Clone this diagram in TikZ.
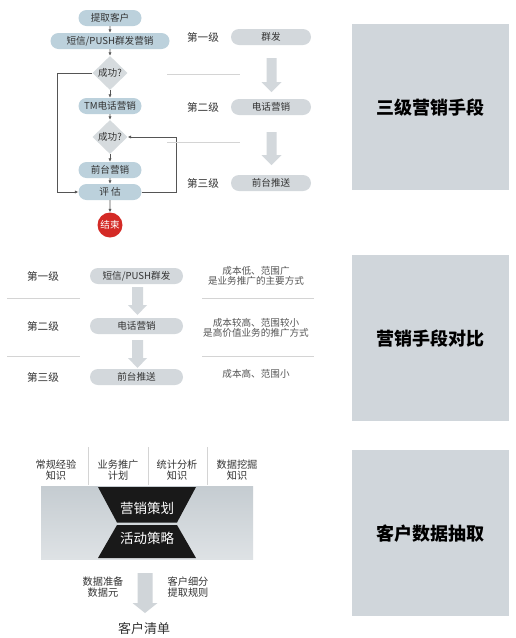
\documentclass[tikz,border=0pt]{standalone}
\usepackage{fontspec}
\setmainfont{Noto Sans CJK SC}
\usetikzlibrary{arrows.meta,shapes.geometric,shapes.misc}
\definecolor{pillblue}{HTML}{BCD1DC}
\definecolor{pillgray}{HTML}{D3D8DC}
\definecolor{diagray}{HTML}{D6DBDE}
\definecolor{panelgray}{HTML}{D0D6DB}
\definecolor{txt}{HTML}{333333}
\definecolor{txtlight}{HTML}{555555}
\definecolor{lineg}{HTML}{D4D4D4}
\definecolor{flowline}{HTML}{555555}
\definecolor{endred}{HTML}{D42A26}
\definecolor{arrowgray}{HTML}{D0D5D9}
\definecolor{bandtop}{HTML}{C5CCD1}
\definecolor{bandbot}{HTML}{DEE2E5}
\newcommand\myarrow[7]{%
  \fill[#7] ({#1-#2/2},#4) -- ({#1+#2/2},#4) -- ({#1+#2/2},#5) -- ({#1+#3/2},#5)
    -- (#1,#6) -- ({#1-#3/2},#5) -- ({#1-#2/2},#5) -- cycle;}
\begin{document}
\begin{tikzpicture}[x=1pt,y=-1pt,
  pillb/.style={rounded rectangle, fill=pillblue, inner sep=0pt, minimum height=16pt, font=\fontsize{9.6}{10}\selectfont, text=txt},
  pillg/.style={rounded rectangle, fill=pillgray, inner sep=0pt, minimum height=16pt, font=\fontsize{9.6}{10}\selectfont, text=txt},
  dia/.style={diamond, fill=diagray, inner sep=0pt, minimum width=35pt, minimum height=34pt},
  ftxt/.style={inner sep=0pt, font=\fontsize{9.6}{10}\selectfont, text=txt},
  lvl/.style={inner sep=0pt, font=\fontsize{10.6}{11}\selectfont, text=txt},
  note/.style={inner sep=0pt, font=\fontsize{9.6}{10.5}\selectfont, text=txtlight, align=center},
  panel/.style={fill=panelgray, inner sep=0pt, anchor=north west, font=\fontsize{18}{20}\selectfont\bfseries, text=black},
  flow/.style={draw=flowline, line width=0.6pt, -{Latex[length=3.5pt,width=3.2pt]}},
  sep/.style={draw=lineg, line width=0.6pt},
  knw/.style={inner sep=0pt, font=\fontsize{10.2}{11.5}\selectfont, text=txt, align=center},
]
\useasboundingbox (0,0) rectangle (515,638);
\fill[white] (0,0) rectangle (515,638);

% ---------- right panels
\node[panel, minimum width=157pt, minimum height=166pt] (p1) at (352,24) {三级营销手段};
\node[panel, minimum width=157pt, minimum height=166pt] (p2) at (352,255) {营销手段对比};
\node[panel, minimum width=157pt, minimum height=166pt] (p3) at (352,450) {客户数据抽取};

% ---------- section 1: flowchart
\node[pillb, minimum width=63pt] (tq) at (110,18) {提取客户};
\node[pillb, minimum width=119pt] (dx) at (110,41) {短信/PUSH群发营销};
\node[dia] (d1) at (110,73) {};
\node[ftxt] (d1t) at (d1) {成功?};
\node[pillb, minimum width=63pt] (tm) at (110,106) {TM电话营销};
\node[dia] (d2) at (110,137) {};
\node[ftxt] (d2t) at (d2) {成功?};
\node[pillb, minimum width=63pt] (qt) at (110,170) {前台营销};
\node[pillb, minimum width=63pt] (pg) at (110,192) {评\ 估};
\node[circle, fill=endred, minimum size=25pt, inner sep=0pt, text=white, font=\fontsize{9.6}{10}\selectfont] (end) at (110,225) {结束};

\draw[flow] (tq) -- (dx);
\draw[flow] (dx) -- (d1);
\draw[flow] (d1) -- (tm);
\draw[flow] (tm) -- (d2);
\draw[flow] (d2) -- (qt);
\draw[flow] (qt) -- (pg);
\draw[flow] (pg) -- (end);
\draw[flow] (d1.west) -- ++(-35,0) |- (pg.west);
\draw[flow] (pg.east) -- ++(35,0) |- (d2.east);

% separators
\coordinate (s1a) at (167,74); \coordinate (s1b) at (240,74);
\coordinate (s2a) at (167,142); \coordinate (s2b) at (240,142);
\draw[sep] (s1a) -- (s1b);
\draw[sep] (s2a) -- (s2b);

% levels
\node[lvl] (l1) at (203,37) {第一级};
\node[lvl] (l2) at (203,107) {第二级};
\node[lvl] (l3) at (203,183) {第三级};
\node[pillg, minimum width=80pt] (g1) at (271,37) {群发};
\node[pillg, minimum width=80pt] (g2) at (271,107) {电话营销};
\node[pillg, minimum width=80pt] (g3) at (271,183) {前台推送};
\myarrow{271.5}{10}{20}{58}{82}{92}{pillgray}
\myarrow{271.5}{10}{20}{132}{155}{165}{pillgray}

% ---------- section 2
\node[lvl] (m1) at (43,276) {第一级};
\node[lvl] (m2) at (43,326) {第二级};
\node[lvl] (m3) at (43,377) {第三级};
\node[pillg, minimum width=93pt] (c1) at (136.5,276) {短信/PUSH群发};
\node[pillg, minimum width=93pt] (c2) at (136.5,326) {电话营销};
\node[pillg, minimum width=93pt] (c3) at (136.5,377) {前台推送};
\myarrow{137.5}{11}{19}{287}{305}{315}{pillgray}
\myarrow{137.5}{11}{19}{340}{358}{368}{pillgray}
\node[note] (n1) at (256,276) {成本低、范围广\\是业务推广的主要方式};
\node[note] (n2) at (256,328) {成本较高、范围较小\\是高价值业务的推广方式};
\node[note] (n3) at (256,374) {成本高、范围小};
\coordinate (t1a) at (7,298); \coordinate (t1b) at (80,298);
\coordinate (t1c) at (202,298); \coordinate (t1d) at (314,298);
\coordinate (t2a) at (7,356); \coordinate (t2b) at (80,356);
\coordinate (t2c) at (202,356); \coordinate (t2d) at (314,356);
\draw[sep] (t1a) -- (t1b); \draw[sep] (t1c) -- (t1d);
\draw[sep] (t2a) -- (t2b); \draw[sep] (t2c) -- (t2d);

% ---------- section 3
\node[knw] (k1) at (56,470) {常规经验\\知识};
\node[knw] (k2) at (118,470) {业务推广\\计划};
\node[knw] (k3) at (177,470) {统计分析\\知识};
\node[knw] (k4) at (237,470) {数据挖掘\\知识};
\draw[sep] (88,447) -- (88,485);
\draw[sep] (148,447) -- (148,485);
\draw[sep] (207,447) -- (207,485);
\shade[top color=bandtop, bottom color=bandbot] (41,486) rectangle (253,559);
\fill[black!90] (98,487) -- (196,487) -- (177,522.5) -- (117,522.5) -- cycle;
\fill[black!90] (117,525) -- (177,525) -- (196,558) -- (98,558) -- cycle;
\node[inner sep=0pt, text=white, font=\fontsize{13.5}{14}\selectfont] (yx) at (147,508) {营销策划};
\node[inner sep=0pt, text=white, font=\fontsize{13.5}{14}\selectfont] (hd) at (147,538) {活动策略};
\myarrow{145}{15}{25}{573}{603}{613}{arrowgray}
\node[knw] (b1) at (103,587) {数据准备\\数据元};
\node[knw] (b2) at (188,587) {客户细分\\提取规则};
\node[inner sep=0pt, text=txt, font=\fontsize{13}{14}\selectfont] (kq) at (144,629) {客户清单};
\end{tikzpicture}
\end{document}
